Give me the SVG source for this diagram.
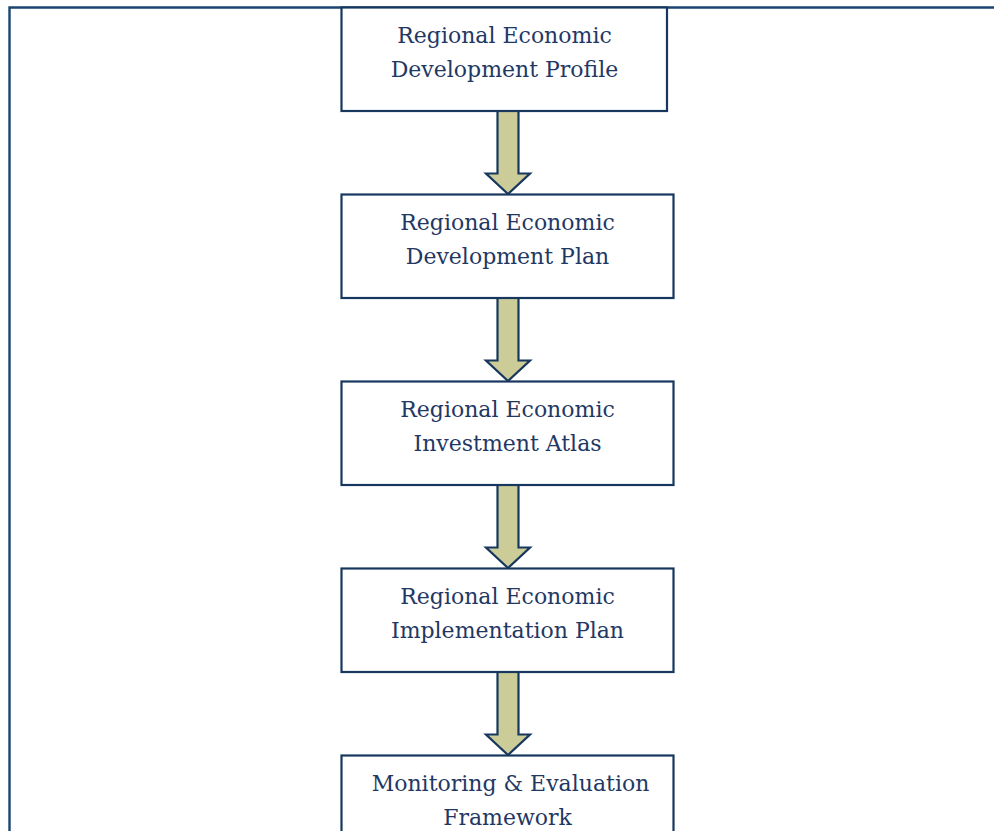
<svg xmlns="http://www.w3.org/2000/svg" width="994" height="831" viewBox="0 0 994 831">
  <style>
    .frame { fill: none; stroke: #1B4472; stroke-width: 2.4; }
    .box rect { fill: #FFFFFF; stroke: #17375E; stroke-width: 2.2; }
    .box text { font-family: "DejaVu Serif", "Liberation Serif", serif; font-size: 22px; fill: #1F3864; text-anchor: middle; }
    .arrow { fill: #CBCC98; stroke: #17375E; stroke-width: 2.2; stroke-linejoin: miter; }
  </style>
  <rect width="994" height="831" fill="#FFFFFF"/>
  <!-- outer frame: top and left edges -->
  <path class="frame" d="M9.5 831 V7.5 H994"/>

  <g id="connectors">
    <polygon class="arrow" points="497.5,111 518.5,111 518.5,173.5 530,173.5 508,194 486,173.5 497.5,173.5"/>
    <polygon class="arrow" points="497.5,298 518.5,298 518.5,360.5 530,360.5 508,381 486,360.5 497.5,360.5"/>
    <polygon class="arrow" points="497.5,485 518.5,485 518.5,547.5 530,547.5 508,568 486,547.5 497.5,547.5"/>
    <polygon class="arrow" points="497.5,672 518.5,672 518.5,734.5 530,734.5 508,755 486,734.5 497.5,734.5"/>
  </g>

  <g id="profile" class="box">
    <rect x="341.5" y="7.5" width="325.5" height="103.5"/>
    <text x="504.5" y="43">Regional Economic</text>
    <text x="504.5" y="77">Development Profile</text>
  </g>
  <g id="plan" class="box">
    <rect x="341.5" y="194.5" width="332" height="103.5"/>
    <text x="507.5" y="230">Regional Economic</text>
    <text x="507.5" y="264">Development Plan</text>
  </g>
  <g id="atlas" class="box">
    <rect x="341.5" y="381.5" width="332" height="103.5"/>
    <text x="507.5" y="417">Regional Economic</text>
    <text x="507.5" y="451">Investment Atlas</text>
  </g>
  <g id="implementation" class="box">
    <rect x="341.5" y="568.5" width="332" height="103.5"/>
    <text x="507.5" y="604">Regional Economic</text>
    <text x="507.5" y="638">Implementation Plan</text>
  </g>
  <g id="monitoring" class="box">
    <rect x="341.5" y="755.5" width="332" height="103.5"/>
    <text x="510.5" y="791">Monitoring &amp; Evaluation</text>
    <text x="507.5" y="825">Framework</text>
  </g>
</svg>
